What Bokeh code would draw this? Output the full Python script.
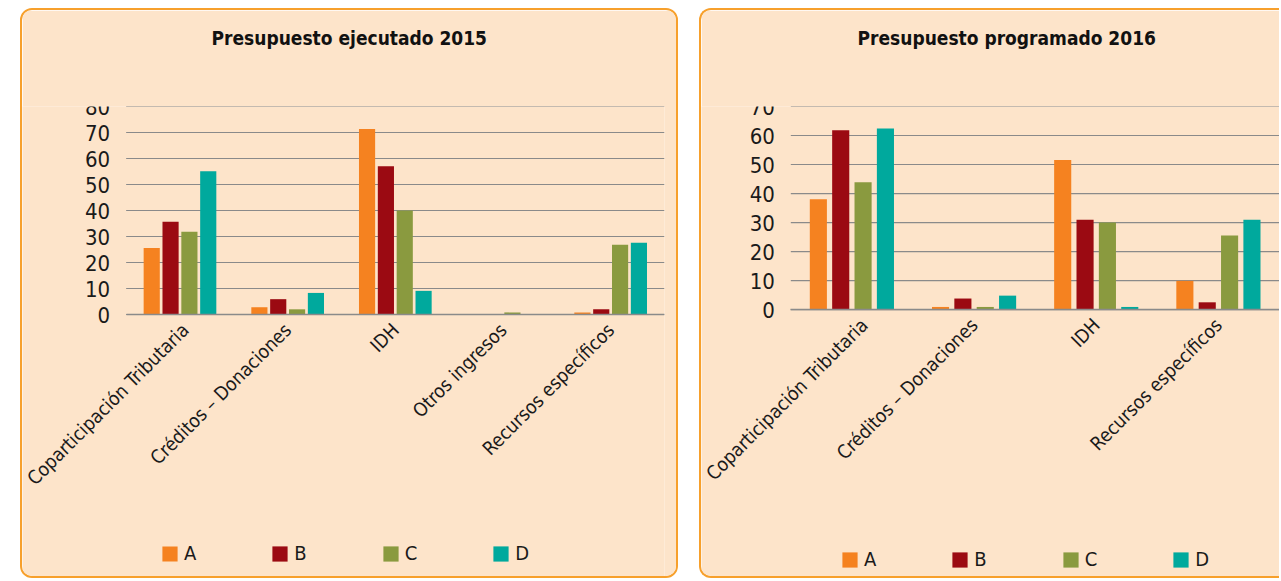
from bokeh.plotting import figure
from bokeh.models import Range1d, Legend, LegendItem, Title, ColumnDataSource, Spacer
from bokeh.transform import dodge
from bokeh.layouts import row, column
from bokeh.embed import file_html
from bokeh.resources import INLINE

# ---------------- data ----------------
series_names = ["A", "B", "C", "D"]

categories_2015 = ["Coparticipación Tributaria", "Créditos – Donaciones", "IDH",
                   "Otros ingresos", "Recursos específicos"]
A_2015 = [25.6, 2.8, 71.3, 0.0, 0.8]
B_2015 = [35.7, 5.9, 57.0, 0.0, 2.0]
C_2015 = [31.8, 2.0, 40.0, 0.8, 26.8]
D_2015 = [55.1, 8.3, 9.1, 0.0, 27.6]
ticks_2015 = [0, 10, 20, 30, 40, 50, 60, 70, 80]

categories_2016 = ["Coparticipación Tributaria", "Créditos – Donaciones", "IDH",
                   "Recursos específicos"]
A_2016 = [38.0, 0.9, 51.6, 9.9]
B_2016 = [61.8, 3.8, 31.0, 2.5]
C_2016 = [43.9, 0.9, 30.0, 25.5]
D_2016 = [62.4, 4.8, 0.9, 31.0]
ticks_2016 = [0, 10, 20, 30, 40, 50, 60, 70]

# ---------------- style ----------------
FONT = "DejaVu Sans Condensed"
BG = "#FDE4CA"
BORDER = "#F7A02C"
COLORS = ["#F58220", "#9B0A12", "#8A9A3F", "#00A99D"]
GRID = "#8A8A8A"


def make_panel(title, title_offset, cats, series, ticks, gap_left, data_px, gap_right,
               border_right, fh, ymin, top, step, bar_w, leg_loc, styles):
    n = len(cats)
    ppu = data_px / n                      # pixels per category
    xlo, xhi = -0.5, n - 0.5               # extent of the category area
    x_range = Range1d(xlo - gap_left / ppu, xhi + gap_right / ppu)
    fw = gap_left + data_px + gap_right

    p = figure(frame_width=fw, frame_height=fh, x_range=x_range,
               y_range=Range1d(ymin, ticks[-1]),
               output_backend="svg", toolbar_location=None,
               min_border_left=0, min_border_right=border_right,
               min_border_top=top, min_border_bottom=0)
    p.background_fill_color = BG
    p.border_fill_color = BG
    p.outline_line_color = None
    p.styles = styles

    # horizontal grid lines limited to the category area
    p.xgrid.grid_line_color = None
    p.ygrid.grid_line_color = None
    p.segment(x0=[xlo] * len(ticks), x1=[xhi] * len(ticks), y0=ticks, y1=ticks,
              line_color=GRID, line_width=1.2, level="underlay")

    src = ColumnDataSource(dict(xi=list(range(n)), A=series[0], B=series[1],
                                C=series[2], D=series[3]))
    items = []
    offsets = [-1.5 * step, -0.5 * step, 0.5 * step, 1.5 * step]
    for name, col, off in zip(series_names, COLORS, offsets):
        r = p.vbar(x=dodge("xi", off), top=name, bottom=0, width=bar_w,
                   source=src, fill_color=col, line_color=None)
        items.append(LegendItem(label=name, renderers=[r]))

    # category axis on the zero line
    p.xaxis.fixed_location = 0
    p.xaxis.bounds = (xlo, xhi)
    p.xaxis.ticker = list(range(n))
    p.xaxis.major_label_overrides = {i: c for i, c in enumerate(cats)}
    p.xaxis.major_label_orientation = 0.785398
    p.xaxis.major_tick_line_color = None
    p.xaxis.minor_tick_line_color = None
    p.xaxis.axis_line_color = GRID
    p.xaxis.axis_line_width = 1.5
    p.xaxis.major_label_text_font = FONT
    p.xaxis.major_label_text_font_size = "19px"
    p.xaxis.major_label_text_color = "#1A1A1A"
    p.xaxis.major_label_standoff = 6

    # value axis at the left edge of the category area
    p.yaxis.fixed_location = xlo
    p.yaxis.ticker = ticks
    p.yaxis.axis_line_color = None
    p.yaxis.major_tick_line_color = None
    p.yaxis.minor_tick_line_color = None
    p.yaxis.major_label_text_font = FONT
    p.yaxis.major_label_text_font_size = "22px"
    p.yaxis.major_label_text_color = "#1A1A1A"
    p.yaxis.major_label_standoff = 10

    p.title = Title(text=title + "\n\n", align="left", offset=title_offset,
                    standoff=28, text_font=FONT, text_font_size="19px",
                    text_font_style="bold", text_color="#111111")

    leg = Legend(items=items, orientation="horizontal", location=leg_loc,
                 background_fill_alpha=0, border_line_color=None,
                 label_text_font=FONT, label_text_font_size="20px",
                 label_text_color="#1A1A1A", glyph_width=19, glyph_height=19,
                 label_width=12, label_standoff=5, spacing=74, margin=0)
    p.add_layout(leg, "center")
    return p


p1 = make_panel("Presupuesto ejecutado 2015", 189, categories_2015,
                [A_2015, B_2015, C_2015, D_2015], ticks_2015,
                gap_left=103, data_px=535, gap_right=0, border_right=16,
                fh=470, ymin=-102.3, top=95,
                step=0.175, bar_w=0.15, leg_loc=(138, 15),
                styles={"border": f"2px solid {BORDER}", "border-radius": "12px",
                        "overflow": "hidden", "box-sizing": "border-box"})

p2 = make_panel("Presupuesto programado 2016", 156, categories_2016,
                [A_2016, B_2016, C_2016, D_2016], ticks_2016,
                gap_left=89, data_px=487, gap_right=2, border_right=0,
                fh=470, ymin=-93.4, top=95,
                step=0.183, bar_w=0.14, leg_loc=(139, 9),
                styles={"border": f"2px solid {BORDER}", "border-right": "none",
                        "border-radius": "12px 0 0 12px",
                        "overflow": "hidden", "box-sizing": "border-box"})

layout = column(Spacer(height=8),
                row(Spacer(width=20), p1, Spacer(width=21), p2))
open("out.html", "w").write(file_html(layout, INLINE))
